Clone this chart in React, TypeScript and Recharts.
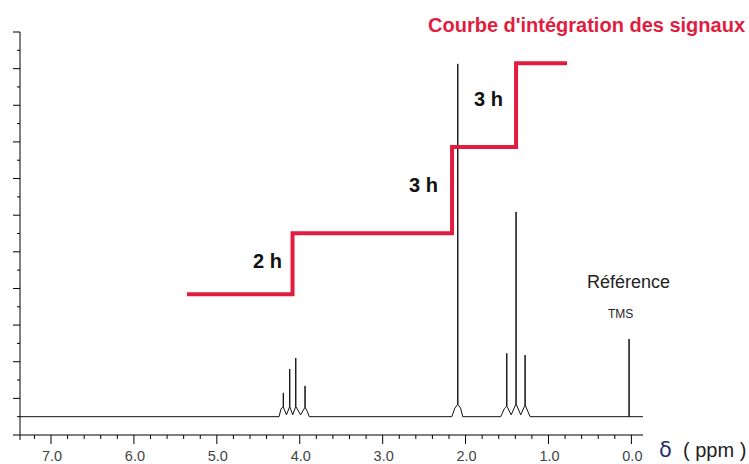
import React from 'react'
import { ComposedChart, Line, XAxis, YAxis } from 'recharts'

// chemical shift (ppm), intensity (arbitrary units, baseline = 5)
const BASELINE_START = [[7.374, 5]]
const QUARTET = [
  [4.25, 5], [4.225, 7.2], [4.198, 7.6], [4.198, 11.5], [4.198, 7.6],
  [4.16, 5.5], [4.121, 7.8], [4.121, 18.0], [4.121, 7.8],
  [4.085, 5.5], [4.048, 7.8], [4.048, 21.0], [4.048, 7.8],
  [3.99, 5.5], [3.936, 7.6], [3.936, 13.4], [3.936, 7.6], [3.91, 6.5], [3.885, 5],
]
const SINGLET = [
  [2.166, 5], [2.13, 7.3], [2.094, 8.4], [2.094, 101.3], [2.094, 8.4], [2.06, 7.3], [2.034, 5],
]
const TRIPLET = [
  [1.576, 5], [1.53, 7.3], [1.503, 7.9], [1.503, 22.3], [1.503, 7.9],
  [1.45, 5.5], [1.391, 8.5], [1.391, 60.9], [1.391, 8.5],
  [1.335, 5.5], [1.282, 8.2], [1.282, 21.8], [1.282, 8.2], [1.25, 6.5], [1.222, 5],
]
const TMS = [[0.028, 5], [0.028, 26.2], [0.028, 5], [-0.14, 5]]

// integration step curve
const INTEGRATION = [
  [5.36, 38.4], [4.087, 38.4], [4.087, 55.1], [2.163, 55.1],
  [2.163, 78.6], [1.391, 78.6], [1.391, 101.5], [0.776, 101.5],
]

const X_TICKS = [
  7.2, 7.0, 6.8, 6.6, 6.4, 6.2, 6.0, 5.8, 5.6, 5.4, 5.2, 5.0, 4.8, 4.6, 4.4, 4.2, 4.0,
  3.8, 3.6, 3.4, 3.2, 3.0, 2.8, 2.6, 2.4, 2.2, 2.0, 1.8, 1.6, 1.4, 1.2, 1.0, 0.8, 0.6,
  0.4, 0.2, 0.0,
]
const Y_TICKS = [0, 5, 10, 15, 20, 25, 30, 35, 40, 45, 50, 55, 60, 65, 70, 75, 80, 85, 90, 95, 100, 105, 110]

const spectrum = [...BASELINE_START, ...QUARTET, ...SINGLET, ...TRIPLET, ...TMS].map(([ppm, i]) => ({ ppm, i }))
const integration = INTEGRATION.map(([ppm, h]) => ({ ppm, h }))

const FONT = '"Liberation Sans", Arial, sans-serif'
const RED = '#e11d3f'

const XTick = ({ x, y, payload }: any) => {
  const v = payload.value
  const major = Math.abs(v - Math.round(v)) < 1e-6
  return (
    <g>
      <line x1={x} y1={y} x2={x} y2={y + (major ? 9 : 4)} stroke="#000" />
      {major && (
        <text x={x + 1} y={y + 26} textAnchor="middle" fontFamily={FONT} fontSize={14.5} fill="#444">
          {v.toFixed(1)}
        </text>
      )}
    </g>
  )
}

const YTick = ({ x, y, payload }: any) => {
  const major = payload.value % 10 === 0
  return <line x1={x - (major ? 7 : 3)} y1={y} x2={x} y2={y} stroke="#000" />
}

export default function App() {
  return (
    <div style={{ position: 'absolute', left: 0, top: 0, width: 749, height: 464, background: '#fff' }}>
      <ComposedChart width={749} height={464} margin={{ top: 32, right: 106, left: 0, bottom: 0 }}>
        <XAxis
          type="number"
          dataKey="ppm"
          domain={[-0.14, 7.374]}
          reversed
          allowDataOverflow
          ticks={X_TICKS}
          interval={0}
          tickSize={0}
          tickMargin={0}
          tickLine={false}
          tick={<XTick />}
          height={29}
          axisLine={{ stroke: '#000' }}
        />
        <YAxis
          type="number"
          domain={[0, 110]}
          allowDataOverflow
          ticks={Y_TICKS}
          interval={0}
          tickSize={0}
          tickMargin={0}
          tickLine={false}
          tick={<YTick />}
          width={20}
          axisLine={{ stroke: '#000' }}
        />
        <Line
          data={spectrum}
          dataKey="i"
          type="linear"
          stroke="#111"
          strokeWidth={1}
          dot={false}
          activeDot={false}
          isAnimationActive={false}
        />
        <Line
          data={integration}
          dataKey="h"
          type="linear"
          stroke={RED}
          strokeWidth={4}
          strokeLinejoin="miter"
          strokeLinecap="butt"
          dot={false}
          activeDot={false}
          isAnimationActive={false}
        />
      </ComposedChart>

      <svg width={749} height={464} style={{ position: 'absolute', left: 0, top: 0, pointerEvents: 'none' }}>
        <line x1={20} y1={435} x2={20} y2={440} stroke="#000" />
        <text x={428} y={32} fontFamily={FONT} fontSize={20} fontWeight="bold" fill={RED}>
          Courbe d'intégration des signaux
        </text>
        <text x={253} y={268} fontFamily={FONT} fontSize={20} fontWeight="bold" fill="#111">2 h</text>
        <text x={409} y={192} fontFamily={FONT} fontSize={20} fontWeight="bold" fill="#111">3 h</text>
        <text x={474} y={106} fontFamily={FONT} fontSize={20} fontWeight="bold" fill="#111">3 h</text>
        <text x={587} y={288} fontFamily={FONT} fontSize={18} fill="#222">Référence</text>
        <text x={608} y={318} fontFamily={FONT} fontSize={12} fill="#222">TMS</text>
        <text x={659} y={457} fontFamily='"DejaVu Sans", sans-serif' fontSize={21} fill="#1f2d6b">δ</text>
        <text x={683} y={457} fontFamily={FONT} fontSize={20} fill="#222">( ppm )</text>
      </svg>
    </div>
  )
}
